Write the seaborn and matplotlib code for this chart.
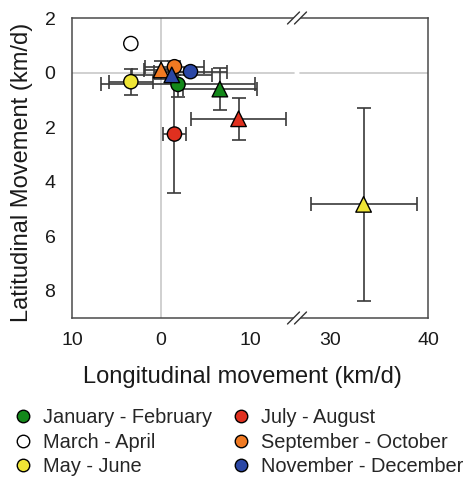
import numpy as np
import pandas as pd
import seaborn as sns
import matplotlib.pyplot as plt
from matplotlib.lines import Line2D
from matplotlib.patches import Polygon

periods = ["January - February", "March - April", "May - June",
           "July - August", "September - October", "November - December"]
period_colors = ["#13881a", "#ffffff", "#efe535", "#e0301f", "#f07a22", "#2b47a5"]

# circles (one per period)
circ_period = periods
circ_lon = [1.9, -3.4, -3.4, 1.5, 1.5, 3.3]
circ_lat = [-0.43, 1.07, -0.33, -2.25, 0.22, 0.04]
circ_lon_err = [8.7, 0.0, 2.5, 1.3, 3.3, 4.1]
circ_lat_err = [0.45, 0.0, 0.47, 2.15, 0.2, 0.12]

# triangles
tri_period = ["January - February", "May - June", "July - August",
              "September - October", "November - December"]
tri_lon = [6.6, 33.4, 8.7, 0.0, 1.2]
tri_lat = [-0.6, -4.83, -1.69, 0.1, -0.08]
tri_lon_err = [4.15, 5.4, 5.3, 1.9, 4.5]
tri_lat_err = [0.78, 3.55, 0.76, 0.33, 0.2]

xticks_left = [-10, 0, 10]
xticklabels_left = ["10", "0", "10"]
xticks_right = [30, 40]
xticklabels_right = ["30", "40"]
yticks = [2, 0, -2, -4, -6, -8]
yticklabels = ["2", "0", "2", "4", "6", "8"]

circ_df = pd.DataFrame({"lon": circ_lon, "lat": circ_lat, "period": circ_period,
                        "xerr": circ_lon_err, "yerr": circ_lat_err})
tri_df = pd.DataFrame({"lon": tri_lon, "lat": tri_lat, "period": tri_period,
                       "xerr": tri_lon_err, "yerr": tri_lat_err})
palette = dict(zip(periods, period_colors))

sns.set_theme(style="white")
plt.rcParams['font.family'] = ['Liberation Sans', 'DejaVu Sans']
spine_col = "#4a4a4a"

fig = plt.figure(figsize=(4.65, 4.79), dpi=100)
ax1 = fig.add_axes([0.155, 0.336, 0.484, 0.626])
ax2 = fig.add_axes([0.639, 0.336, 0.282, 0.626], sharey=ax1)

for ax in (ax1, ax2):
    ax.axvline(0, color="#c8c8c8", lw=1.2, zorder=0)
    for df in (circ_df, tri_df):
        sub = df[(df["xerr"] > 0) | (df["yerr"] > 0)]
        ax.errorbar(sub["lon"], sub["lat"], xerr=sub["xerr"], yerr=sub["yerr"],
                    fmt="none", ecolor="#3a3a3a", elinewidth=1.2, capsize=5,
                    capthick=1.2, zorder=2)
    sns.scatterplot(data=circ_df, x="lon", y="lat", hue="period", palette=palette,
                    marker="o", s=105, edgecolor="black", linewidth=1,
                    legend=False, ax=ax, zorder=3)
    sns.scatterplot(data=tri_df, x="lon", y="lat", hue="period", palette=palette,
                    marker="^", s=125, edgecolor="black", linewidth=1,
                    legend=False, ax=ax, zorder=4)
    ax.set_ylim(-9, 2)
    ax.set_xlabel("")
    ax.set_ylabel("")
    for s in ax.spines.values():
        s.set_color(spine_col)
        s.set_linewidth(1.1)
    ax.tick_params(axis="both", direction="out", length=5, width=1,
                   color=spine_col, labelsize=14, labelcolor="#1a1a1a")
    ax.tick_params(axis="x", pad=5)
    ax.tick_params(axis="y", pad=7)

ax1.axhline(0, xmax=0.985, color="#c8c8c8", lw=1.2, zorder=0)
ax2.axhline(0, xmin=0.025, color="#c8c8c8", lw=1.2, zorder=0)

ax1.set_xlim(-10, 15.28)
ax2.set_xlim(26.62, 40)
ax1.set_xticks(xticks_left)
ax1.set_xticklabels(xticklabels_left)
ax2.set_xticks(xticks_right)
ax2.set_xticklabels(xticklabels_right)
ax1.set_yticks(yticks)
ax1.set_yticklabels(yticklabels)
ax1.spines["right"].set_visible(False)
ax2.spines["left"].set_visible(False)
ax2.tick_params(axis="y", left=False, labelleft=False)

# break marks
W, H = 465.0, 479.0
for yc in (18, 318):
    xc = 297
    poly = Polygon([((xc - 9.5) / W, 1 - (yc + 6) / H), ((xc - 2.5) / W, 1 - (yc + 6) / H),
                    ((xc + 9.5) / W, 1 - (yc - 6) / H), ((xc + 2.5) / W, 1 - (yc - 6) / H)],
                   closed=True, transform=fig.transFigure, facecolor="white",
                   edgecolor="none", zorder=10)
    fig.add_artist(poly)
    for off in (-3.5, 3.5):
        fig.add_artist(Line2D([(xc + off - 6) / W, (xc + off + 6) / W],
                              [1 - (yc + 6) / H, 1 - (yc - 6) / H],
                              transform=fig.transFigure, color="#333333", lw=1.0, zorder=11))

fig.text(242 / W, 1 - 377 / H, "Longitudinal movement (km/d)", ha="center", va="center",
         fontsize=17, color="#1a1a1a")
fig.text(22 / W, 1 - 172 / H, "Latitudinal Movement (km/d)", ha="center", va="center",
         rotation=90, fontsize=17, color="#1a1a1a")

handles = [Line2D([], [], marker="o", linestyle="none", markersize=9,
                  markerfacecolor=c, markeredgecolor="black", markeredgewidth=1)
           for c in period_colors]
fig.legend(handles, periods, ncol=2, loc="upper left",
           bbox_to_anchor=(12.7 / W, 1 - 408 / H), frameon=False, fontsize=14.4,
           handlelength=1.0, handletextpad=0.51, columnspacing=0.95,
           labelspacing=0.28, borderpad=0, borderaxespad=0)

fig.savefig("out.png", dpi=100)
